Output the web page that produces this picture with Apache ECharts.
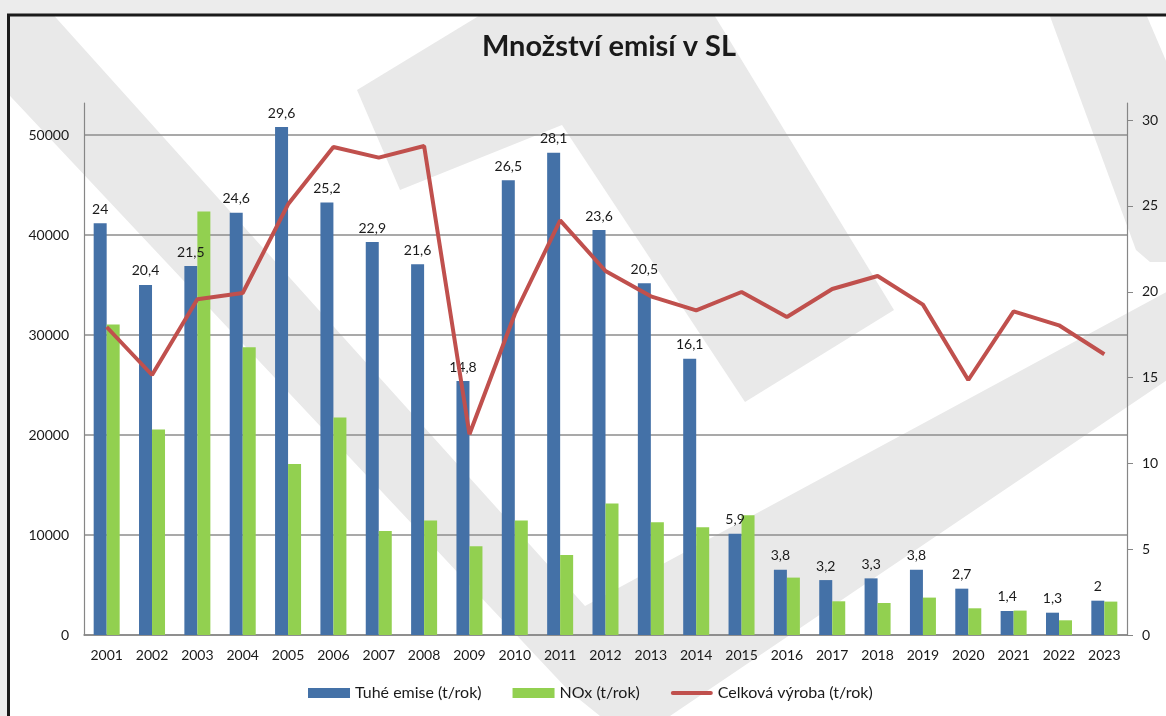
<!DOCTYPE html>
<html>
<head>
<meta charset="utf-8">
<script src="https://cdn.jsdelivr.net/npm/echarts@6/dist/echarts.min.js"></script>
<style>
html,body{margin:0;padding:0;background:#fff;}
#chart{width:1166px;height:716px;}
</style>
</head>
<body>
<div id="chart"></div>
<script>
const years = ['2001','2002','2003','2004','2005','2006','2007','2008','2009','2010','2011','2012','2013','2014','2015','2016','2017','2018','2019','2020','2021','2022','2023'];
const tuheEmise = [24,20.4,21.5,24.6,29.6,25.2,22.9,21.6,14.8,26.5,28.1,23.6,20.5,16.1,5.9,3.8,3.2,3.3,3.8,2.7,1.4,1.3,2];
const nox = [31040,20540,42340,28770,17100,21740,10400,11440,8870,11440,8000,13140,11270,10770,11970,5740,3370,3200,3740,2670,2440,1470,3340];
const celkovaVyroba = [30800,26000,33570,34200,43070,48800,47740,48900,20070,32100,41470,36400,33870,32470,34300,31800,34600,35900,33040,25500,32370,30970,28070];
const seriesNames = ['Tuhé emise (t/rok)','NOx (t/rok)','Celková výroba (t/rok)'];
const titleText = 'Množství emisí v SL';

const FONT = 'Lato, "Noto Sans", sans-serif';
const wm = '#e9e9e9';
const chart = echarts.init(document.getElementById('chart'), null, {renderer:'canvas'});
chart.setOption({
  backgroundColor: '#ffffff',
  animation: false,
  textStyle: {fontFamily: FONT},
  graphic: [
    {type:'polygon', z:-100, silent:true, shape:{points:[[-80,0],[40,0],[585,606],[1170,290],[1170,378],[670,716],[600,716],[569,691],[-80,0]]}, style:{fill:wm}},
    {type:'polygon', z:-100, silent:true, shape:{points:[[1044,0],[1140,0],[1170,70],[1170,262],[1150,262],[1136,250]]}, style:{fill:wm}},
    {type:'polygon', z:-100, silent:true, shape:{points:[[357,90],[505,0],[705,0],[894,310],[745,402],[562,125],[400,190]]}, style:{fill:wm}},
    {type:'rect', z:-50, silent:true, shape:{x:0,y:0,width:1166,height:14}, style:{fill:'#ececec'}},
    {type:'rect', z:-50, silent:true, shape:{x:0,y:0,width:8,height:716}, style:{fill:'#ececec'}},
    {type:'rect', z:100, silent:true, shape:{x:8.5,y:15,width:1300,height:800}, style:{fill:null, stroke:'#1a1a1a', lineWidth:3}}
  ],
  title: {
    text: titleText,
    left: 604, top: 27, textAlign: 'center',
    textStyle: {fontFamily: FONT, fontSize: 29, fontWeight: 'bold', color: '#1a1a1a'}
  },
  legend: {
    left: 303, top: 680,
    itemWidth: 42, itemHeight: 10, itemGap: 31,
    textStyle: {fontFamily: FONT, fontSize: 16, color: '#1a1a1a'},
    data: [
      {name: seriesNames[0], icon: 'rect'},
      {name: seriesNames[1], icon: 'rect'},
      {name: seriesNames[2], icon: 'path://M2,0H40A2,2 0 0 1 40,4H2A2,2 0 0 1 2,0Z'}
    ]
  },
  grid: {left: 84, right: 39, top: 103, bottom: 81},
  xAxis: {
    type: 'category', data: years,
    axisLine: {lineStyle: {color: '#868686', width: 1.5}},
    axisTick: {show: false},
    axisLabel: {fontFamily: FONT, fontSize: 14, color: '#1a1a1a', margin: 13}
  },
  yAxis: [
    {
      type: 'value', min: 0, max: 53200, interval: 10000, position: 'left',
      axisLine: {show: true, lineStyle: {color: '#868686', width: 1.2}},
      axisTick: {show: false},
      axisLabel: {fontFamily: FONT, fontSize: 14, color: '#1a1a1a', margin: 15, showMaxLabel: false,
        formatter: v => String(v)},
      splitLine: {show: true, showMaxLine: false, lineStyle: {color: '#8c8c8c', width: 1.5}}
    },
    {
      type: 'value', min: 0, max: 31, interval: 5, position: 'right',
      axisLine: {show: true, lineStyle: {color: '#868686', width: 1.2}},
      axisTick: {show: true, length: 6, lineStyle: {color: '#868686'}},
      axisLabel: {fontFamily: FONT, fontSize: 14, color: '#1a1a1a', margin: 15, showMaxLabel: false},
      splitLine: {show: false}
    }
  ],
  series: [
    {
      name: seriesNames[0], type: 'bar', yAxisIndex: 1, data: tuheEmise,
      barWidth: 13, barGap: '0%',
      itemStyle: {color: '#4471a7'},
      label: {show: true, position: 'top', distance: 7, fontFamily: FONT, fontSize: 14, color: '#1a1a1a',
        formatter: p => String(p.value).replace('.', ',')}
    },
    {
      name: seriesNames[1], type: 'bar', yAxisIndex: 0, data: nox,
      barWidth: 13, barGap: '0%',
      itemStyle: {color: '#92d050'}
    },
    {
      name: seriesNames[2], type: 'line', yAxisIndex: 0, data: celkovaVyroba,
      symbol: 'none', z: 5,
      itemStyle: {color: '#c0504d'},
      lineStyle: {color: '#c0504d', width: 4}
    }
  ]
});
</script>
</body>
</html>
